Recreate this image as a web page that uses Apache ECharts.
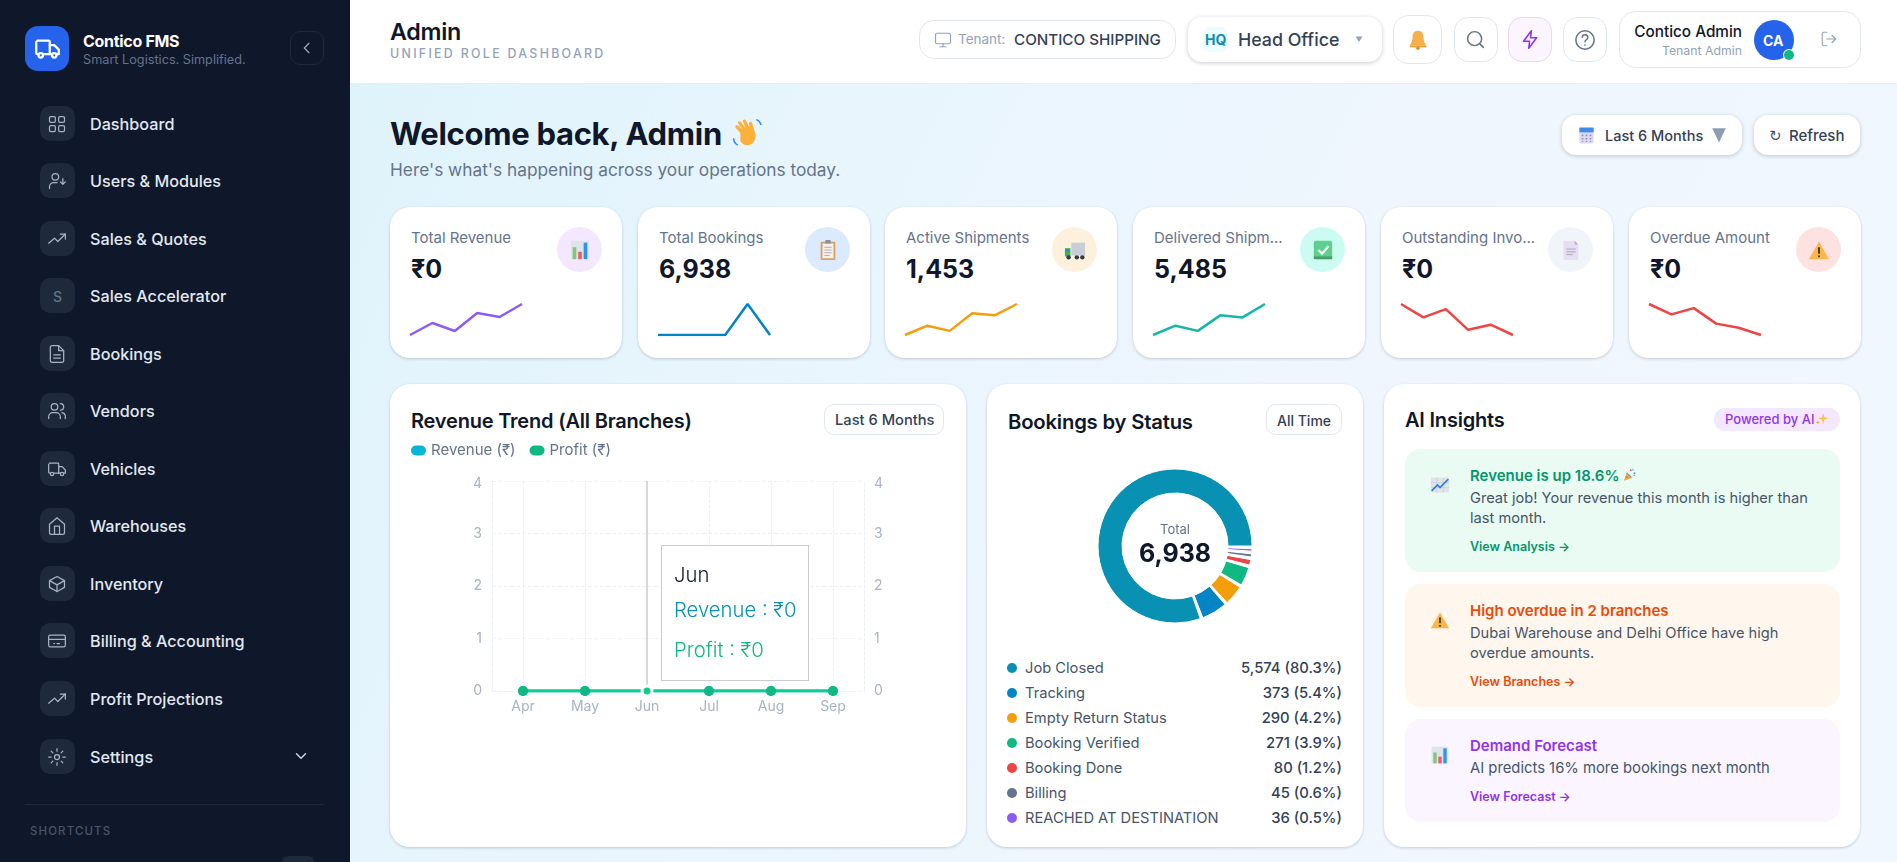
<!DOCTYPE html>
<html lang="en">
<head>
<meta charset="UTF-8">
<title>Contico FMS - Admin</title>
<script src="https://cdn.jsdelivr.net/npm/echarts@6/dist/echarts.min.js"></script>
<style>
  html, body { margin: 0; padding: 0; width: 1897px; height: 862px; overflow: hidden; background: #eff6ff; }
  body { position: relative; font-family: Inter, "Noto Sans", sans-serif; color: #0f172a; }
  .t { position: absolute; transform: translateY(-50%); white-space: nowrap; }
  .b { position: absolute; box-sizing: border-box; }
  .card { background: #fff; border-radius: 20px; box-shadow: 0 1px 3px rgba(15,23,42,.2); }
  .btn { background: #fff; border: 1px solid #e2e8f0; }
  .raised { background: #fff; border-radius: 14px; box-shadow: 0 1px 4px rgba(15,23,42,.22); }
  .b svg { position: absolute; }
</style>
</head>
<body>
<div id="page"></div>
<script>
// chart data
var months = ['Apr', 'May', 'Jun', 'Jul', 'Aug', 'Sep'];
var revenueValues = [0, 0, 0, 0, 0, 0];
var profitValues = [0, 0, 0, 0, 0, 0];
var activeMonth = 2;

var bookingNames = ['Job Closed', 'Tracking', 'Empty Return Status', 'Booking Verified', 'Booking Done', 'Billing', 'REACHED AT DESTINATION'];
var bookingValues = [5574, 373, 290, 271, 80, 45, 36];
var bookingPercents = ['80.3', '5.4', '4.2', '3.9', '1.2', '0.6', '0.5'];
var bookingColors = ['#0891b2', '#0284c7', '#f59e0b', '#10b981', '#ef4444', '#64748b', '#8b5cf6'];

var kpiLabels = ['Total Revenue', 'Total Bookings', 'Active Shipments', 'Delivered Shipm...', 'Outstanding Invo...', 'Overdue Amount'];
var kpiValues = ['₹0', '6,938', '1,453', '5,485', '₹0', '₹0'];
var kpiColors = ['#8b5cf6', '#0284c7', '#f59e0b', '#14b8a6', '#ef4444', '#ef4444'];
var kpiCircles = ['#f3e8ff', '#dbeafe', '#fdf0dc', '#ccfbf1', '#f1f5f9', '#fee2e2'];
var sparkRevenue = [0, 12, 4, 22, 18, 31];
var sparkBookings = [0, 0, 0, 0, 31, 0];
var sparkActive = [1, 10, 5, 22, 20, 31];
var sparkDelivered = [1, 10, 5, 20, 18, 31];
var sparkOutstanding = [31, 18, 26, 6, 11, 1];
var sparkOverdue = [31, 21, 27, 12, 8, 1];
var sparks = [sparkRevenue, sparkBookings, sparkActive, sparkDelivered, sparkOutstanding, sparkOverdue];

var menuNames = ['Dashboard', 'Users & Modules', 'Sales & Quotes', 'Sales Accelerator', 'Bookings', 'Vendors', 'Vehicles', 'Warehouses', 'Inventory', 'Billing & Accounting', 'Profit Projections', 'Settings'];

// small layout helpers
function T(x, y, s, css) { return '<div class="t" style="left:' + x + 'px;top:' + y + 'px;' + (css || '') + '">' + s + '</div>'; }
function TR(x, y, s, css) { return '<div class="t" style="right:' + (1897 - x) + 'px;top:' + y + 'px;' + (css || '') + '">' + s + '</div>'; }
function B(x, y, w, h, cls, css, inner) { return '<div class="b ' + cls + '" style="left:' + x + 'px;top:' + y + 'px;width:' + w + 'px;height:' + h + 'px;' + (css || '') + '">' + (inner || '') + '</div>'; }
function svg(x, y, size, body, extra) {
  return '<svg style="position:absolute;left:' + x + 'px;top:' + y + 'px" width="' + size + '" height="' + size + '" viewBox="0 0 24 24" ' + (extra || '') + '>' + body + '</svg>';
}
function line(x, y, size, body, color, sw) {
  return svg(x, y, size, body, 'fill="none" stroke="' + color + '" stroke-width="' + (sw || 1.7) + '" stroke-linecap="round" stroke-linejoin="round"');
}

var trendUp = '<polyline points="2 17 9 11 13 15 22 6"/><polyline points="16 6 22 6 22 12"/>';
var truck = '<path d="M3 5h10a1 1 0 0 1 1 1v11H8M4 17H3a1 1 0 0 1-1-1V6"/><path d="M14 9h4l4 4v4h-2M14 17h2"/><circle cx="6" cy="18" r="2"/><circle cx="18" cy="18" r="2"/>';
var menuIcons = [
  '<rect x="3" y="3" width="7" height="7" rx="1.5"/><rect x="14" y="3" width="7" height="7" rx="1.5"/><rect x="3" y="14" width="7" height="7" rx="1.5"/><rect x="14" y="14" width="7" height="7" rx="1.5"/>',
  '<circle cx="10" cy="7" r="4"/><path d="M3 21v-2a5 5 0 0 1 5-5h4"/><path d="M19 9v7M16 13l3 3 3-3"/>',
  trendUp,
  '',
  '<path d="M14 2H6a2 2 0 0 0-2 2v16a2 2 0 0 0 2 2h12a2 2 0 0 0 2-2V8z"/><path d="M14 2v6h6M8 13h8M8 17h8"/>',
  '<circle cx="9" cy="7" r="4"/><path d="M2 21v-2a5 5 0 0 1 5-5h4a5 5 0 0 1 5 5v2"/><path d="M16 3a4 4 0 0 1 0 8M22 21v-2a5 5 0 0 0-4-5"/>',
  truck,
  '<path d="M3 10l9-8 9 8v10a2 2 0 0 1-2 2H5a2 2 0 0 1-2-2z"/><path d="M9 22V12h6v10"/>',
  '<path d="M21 8l-9-5-9 5v8l9 5 9-5z"/><path d="M3 8l9 5 9-5M12 13v8"/>',
  '<rect x="2" y="5" width="20" height="14" rx="2"/><path d="M2 10h20M8 15h1M12 15h3"/>',
  trendUp,
  '<circle cx="12" cy="12" r="3"/><path d="M12 2v3M12 19v3M2 12h3M19 12h3M5 5l2 2M17 17l2 2M5 19l2-2M17 7l2-2"/>'
];

// emoji stand-ins, no colour emoji font is installed
var eBars = '<rect x="2" y="2" width="20" height="20" fill="#dfe3ea"/><rect x="4" y="9" width="4" height="13" fill="#7fc77a"/><rect x="10" y="14" width="4" height="8" fill="#ef5a6a"/><rect x="16" y="4" width="4" height="18" fill="#2f95e6"/>';
var eClip = '<rect x="4" y="3" width="16" height="20" rx="1" fill="#d9a066"/><rect x="6" y="5" width="12" height="16" fill="#f6f2e9"/><rect x="9" y="1" width="6" height="4" rx="1" fill="#8b8f99"/><path d="M8 9h8M8 12h8M8 15h8M8 18h6" stroke="#aab" stroke-width="1"/>';
var eTruck = '<rect x="8" y="4" width="15" height="14" fill="#c9ced6"/><path d="M1 10h6v9H1z" fill="#3fae5a"/><path d="M2 11h4v3H2z" fill="#2f8fd6"/><circle cx="5" cy="20" r="2.4" fill="#333a45"/><circle cx="14" cy="20" r="2.4" fill="#333a45"/><circle cx="20" cy="20" r="2.4" fill="#333a45"/>';
var eCheck = '<rect x="2" y="2" width="20" height="20" rx="2" fill="#5ecf8f"/><rect x="2" y="19" width="20" height="3" fill="#4a9e6c"/><path d="M7 12l4 4 7-8" fill="none" stroke="#fff" stroke-width="2.4"/>';
var eDoc = '<path d="M4 2h12l4 4v17H4z" fill="#e6def3"/><path d="M16 2l4 4h-4z" fill="#b9b3c6"/><path d="M7 11h10M7 14h10M7 17h7" stroke="#a9a4bb" stroke-width="1"/>';
var eWarn = '<path d="M12 3l11 19H1z" fill="#fdb64a"/><path d="M12 9v7M12 18v2" stroke="#333" stroke-width="2"/>';
var eBell = '<path d="M12 2c4 0 6 3 6 7 0 5 2 7 3 9H3c1-2 3-4 3-9 0-4 2-7 6-7z" fill="#f5b04c"/><path d="M3 18h18v2H3z" fill="#ee9e36"/><circle cx="12" cy="21" r="2" fill="#e58e2a"/>';
var eCal = '<rect x="3" y="2" width="18" height="20" rx="2" fill="#dcd8f2"/><rect x="3" y="2" width="18" height="6" fill="#3b8ced"/><path d="M7 11v9M12 11v9M17 11v9" stroke="#8d89b8" stroke-width="2" stroke-dasharray="2 2"/>';
var eHand = '<path d="M7 12L3.500 8c-1-1.200 .8-2.800 2-1.500L9 10 5.500 5c-1-1.300 1-2.700 2-1.300L11 8.500 9 3.500c-.6-1.500 1.500-2.300 2.200-.9L14 8l-.6-3c-.3-1.600 1.900-2 2.400-.5l2.200 7c1.300 4.500-.6 8.500-4.400 9.500-3 .7-5-.6-6.600-3z" fill="#fbb03b"/><path d="M2 16c0 2 1 4 3 5M19 2c2 .5 3 2 3.500 4" fill="none" stroke="#3b8ced" stroke-width="1.200"/>';
var eParty = '<path d="M3 22l5-14 9 9z" fill="#f5a93c"/><path d="M6 15l3 3M8 10l6 6" stroke="#3b8ced" stroke-width="1.500"/><circle cx="14" cy="5" r="1.500" fill="#e94f6a"/><circle cx="20" cy="10" r="1.500" fill="#3b8ced"/><path d="M17 3l1 3M21 14l-3-1" stroke="#47b26b" stroke-width="1.500"/>';
var eSpark = '<path d="M14 2l2 7 7 2-7 2-2 8-2-8-7-2 7-2z" fill="#fdc04d"/><path d="M5 14l1 3 3 1-3 1-1 3-1-3-3-1 3-1z" fill="#f4a83b"/>';
var eTrend = '<rect x="1" y="3" width="22" height="18" fill="#dfe3ea"/><path d="M1 9h22M1 15h22M8 3v18M16 3v18" stroke="#c7ccd6" stroke-width=".7"/><path d="M2 19l7-7 3 3 10-10" fill="none" stroke="#2f7fd6" stroke-width="2"/>';
var kpiEmoji = [eBars, eClip, eTruck, eCheck, eDoc, eWarn];

var h = '';

// content background
h += B(350, 83, 1547, 779, '', 'background:linear-gradient(115deg,#dff3fb 0%,#e9f5fd 30%,#eff6fe 60%,#f0f7ff 100%)');

// sidebar
h += B(0, 0, 350, 862, '', 'background:#0f172a');
h += B(25, 26, 44, 45, '', 'background:#2563eb;border-radius:13px', line(9, 9, 27, truck, '#fff', 2));
h += T(83, 41, 'Contico FMS', 'font-size:16px;font-weight:700;color:#fff;letter-spacing:-.3px');
h += T(83, 59, 'Smart Logistics. Simplified.', 'font-size:12.700px;color:#64748b');
h += B(290, 31, 34, 34, '', 'border:1px solid #1e293b;border-radius:10px', line(8, 8, 16, '<polyline points="15 5 8 12 15 19"/>', '#94a3b8', 2));
for (var i = 0; i < menuNames.length; i++) {
  var my = 123.5 + i * 57.55;
  var inner = i === 3
    ? '<div class="t" style="left:0;width:35px;top:18px;text-align:center;font-size:14px;color:#64748b;font-weight:500">S</div>'
    : line(7, 8, 20, menuIcons[i], '#a7b4c6', 1.5);
  h += B(40, Math.round(my - 18), 35, 35, '', 'background:#1e293b;border-radius:10px', inner);
  h += T(90, my, menuNames[i].replace('&', '&amp;'), 'font-size:16.200px;font-weight:500;color:#e2e8f0');
}
h += line(292, 747, 18, '<polyline points="6 9 12 15 18 9"/>', '#cbd5e1', 2);
h += B(25, 804, 299, 1, '', 'background:#1e293b');
h += T(30, 830.5, 'SHORTCUTS', 'font-size:11.500px;font-weight:500;letter-spacing:1.100px;color:#475569');
h += B(282, 856, 32, 12, '', 'background:#1e293b;border-radius:6px');

// header
h += B(350, 0, 1547, 84, '', 'background:#fff;border-bottom:1px solid #e8eef4');
h += T(390, 31, 'Admin', 'font-size:23.300px;font-weight:600;letter-spacing:-.3px');
h += T(390, 53, 'UNIFIED ROLE DASHBOARD', 'font-size:12.400px;font-weight:500;letter-spacing:2.300px;color:#94a3b8');

h += B(919, 20, 257, 39, 'btn', 'border-radius:15px');
h += line(934, 31, 18, '<rect x="2" y="3" width="20" height="14" rx="2"/><path d="M8 21h8M12 17v4"/>', '#94a3b8', 1.6);
h += T(958, 39, 'Tenant:', 'font-size:13.500px;color:#94a3b8');
h += T(1014, 39, 'CONTICO SHIPPING', 'font-size:15.200px;font-weight:500;color:#334155');

h += B(1188, 17, 194, 45, 'raised');
h += B(1203, 27, 25, 25, '', 'background:#ecfeff;border-radius:6px');
h += T(1205, 39, 'HQ', 'font-size:14px;font-weight:700;color:#0891b2');
h += T(1238, 39, 'Head Office', 'font-size:17.800px;font-weight:500;color:#334155');
h += svg(1353, 33, 12, '<path d="M5 7h14l-7 11z" fill="#94a3b8"/>');

h += B(1393, 15, 49, 49, 'btn', 'border-radius:15px');
h += svg(1407, 29, 22, eBell);
h += B(1454, 17, 44, 45, 'btn', 'border-radius:14px');
h += line(1465, 29, 21, '<circle cx="11" cy="11" r="8"/><path d="M21 21l-4.300-4.300"/>', '#64748b', 1.7);
h += B(1508, 17, 44, 45, 'btn', 'border-radius:14px;background:#faf5ff;border-color:#e9d5ff');
h += line(1520, 29, 21, '<path d="M13 2L4 14h7l-1 8 9-12h-7z"/>', '#9333ea', 1.8);
h += B(1563, 17, 44, 45, 'btn', 'border-radius:14px');
h += line(1574, 29, 22, '<circle cx="12" cy="12" r="10"/><path d="M9 9a3 3 0 0 1 6 .5c0 2-3 2.500-3 4.500M12 17.500v.1"/>', '#64748b', 1.7);

h += B(1619, 11, 242, 57, 'btn', 'border-radius:17px');
h += TR(1742, 31, 'Contico Admin', 'font-size:15.300px;font-weight:500');
h += TR(1742, 50, 'Tenant Admin', 'font-size:12.300px;color:#94a3b8');
h += B(1754, 20, 40, 40, '', 'background:#2563eb;border-radius:50%');
h += T(1763, 40, 'CA', 'font-size:14px;font-weight:700;color:#fff');
h += B(1784, 50, 10, 10, '', 'background:#10b981;border-radius:50%;box-shadow:0 0 0 1px #fff');
h += line(1820, 30, 18, '<path d="M9 21H5a2 2 0 0 1-2-2V5a2 2 0 0 1 2-2h4M16 17l5-5-5-5M21 12H9"/>', '#94a3b8', 1.5);

// welcome row
h += T(390, 133, 'Welcome back, Admin', 'font-size:31px;font-weight:700;letter-spacing:-.3px');
h += svg(731, 117, 32, eHand);
h += T(390, 169, "Here's what's happening across your operations today.", 'font-size:17.300px;color:#64748b');

h += B(1562, 115, 180, 40, 'raised');
h += svg(1577, 126, 19, eCal);
h += T(1605, 135, 'Last 6 Months', 'font-size:14.500px;font-weight:500;color:#334155');
h += svg(1710, 126, 18, '<path d="M3 3h18l-9 19z" fill="#8d9cb0"/>');
h += B(1754, 115, 106, 40, 'raised');
h += T(1769, 136, '↻', 'font-size:15px;font-family:\'DejaVu Sans\';color:#475569');
h += T(1789, 135, 'Refresh', 'font-size:15px;font-weight:500;color:#334155');

// kpi cards
var kpiLeft = [390, 638, 885, 1133, 1381, 1629];
for (var k = 0; k < 6; k++) {
  var cx = kpiLeft[k];
  h += B(cx, 207, 232, 151, 'card', 'border-radius:20px');
  h += T(cx + 21, 237, kpiLabels[k], 'font-size:15px;color:#64748b');
  h += T(cx + 21, 269, kpiValues[k], 'font-size:25px;font-weight:700');
  h += B(cx + 167, 227, 45, 45, '', 'background:' + kpiCircles[k] + ';border-radius:50%', svg(12, 12, 22, kpiEmoji[k]));
  h += '<div id="spark' + k + '" class="b" style="left:' + (cx + 19) + 'px;top:298px;width:114px;height:42px"></div>';
}

// revenue card
h += B(390, 384, 576, 463, 'card');
h += T(411, 421, 'Revenue Trend (All Branches)', 'font-size:20px;font-weight:600;letter-spacing:-.2px');
h += B(824, 404, 120, 31, 'btn', 'border-radius:10px');
h += T(835, 420, 'Last 6 Months', 'font-size:14.700px;font-weight:500;color:#334155');
h += '<div id="trend" class="b" style="left:390px;top:440px;width:576px;height:300px"></div>';

// bookings card
h += B(987, 384, 376, 463, 'card');
h += T(1008, 421, 'Bookings by Status', 'font-size:20.300px;font-weight:600;letter-spacing:-.2px');
h += B(1266, 404, 76, 31, 'btn', 'border-radius:10px');
h += T(1277, 420, 'All Time', 'font-size:14px;font-weight:500;color:#334155');
h += '<div id="donut" class="b" style="left:1075px;top:446px;width:200px;height:200px"></div>';
for (var n = 0; n < bookingNames.length; n++) {
  var ry = 667.5 + n * 25;
  h += B(1007, Math.round(ry - 5), 10, 10, '', 'border-radius:50%;background:' + bookingColors[n]);
  h += T(1025, ry, bookingNames[n], 'font-size:14.700px;color:#475569');
  h += TR(1342, ry, bookingValues[n].toLocaleString('en-US') + ' (' + bookingPercents[n] + '%)', 'font-size:14.800px;font-weight:500;color:#334155');
}

// ai insights card
h += B(1384, 384, 476, 463, 'card');
h += T(1405, 420, 'AI Insights', 'font-size:20px;font-weight:600;letter-spacing:-.2px');
h += B(1714, 408, 126, 23, '', 'background:#f3e8ff;border-radius:12px');
h += T(1725, 419, 'Powered by AI', 'font-size:13px;font-weight:500;color:#9333ea');
h += svg(1815, 412, 14, eSpark);

h += B(1405, 449, 435, 123, '', 'background:#e9fbf3;border-radius:16px');
h += svg(1430, 475, 20, eTrend);
h += T(1470, 475, 'Revenue is up 18.6%', 'font-size:15px;font-weight:600;color:#059669');
h += svg(1622, 467, 15, eParty);
h += T(1470, 498, 'Great job! Your revenue this month is higher than', 'font-size:14.650px;color:#475569');
h += T(1470, 518, 'last month.', 'font-size:14.650px;color:#475569');
h += T(1470, 546, 'View Analysis →', 'font-size:12.500px;font-weight:600;color:#059669');

h += B(1405, 584, 435, 123, '', 'background:#fff7ed;border-radius:16px');
h += svg(1430, 610, 20, eWarn);
h += T(1470, 610, 'High overdue in 2 branches', 'font-size:15px;font-weight:600;color:#ea4a0c');
h += T(1470, 633, 'Dubai Warehouse and Delhi Office have high', 'font-size:14.650px;color:#475569');
h += T(1470, 653, 'overdue amounts.', 'font-size:14.650px;color:#475569');
h += T(1470, 681, 'View Branches →', 'font-size:12.500px;font-weight:600;color:#ea4a0c');

h += B(1405, 719, 435, 103, '', 'background:#faf5ff;border-radius:16px');
h += svg(1430, 745, 20, eBars);
h += T(1470, 745, 'Demand Forecast', 'font-size:15px;font-weight:600;color:#9333ea');
h += T(1470, 768, 'AI predicts 16% more bookings next month', 'font-size:14.800px;color:#475569');
h += T(1470, 796, 'View Forecast →', 'font-size:12.500px;font-weight:600;color:#9333ea');

document.getElementById('page').innerHTML = h;

// sparklines
sparks.forEach(function (vals, idx) {
  var c = echarts.init(document.getElementById('spark' + idx));
  c.setOption({
    animation: false,
    grid: { left: 1, right: 1, top: 6, bottom: 5 },
    xAxis: { type: 'category', show: false, boundaryGap: false, data: months },
    yAxis: { type: 'value', show: false, min: 'dataMin', max: 'dataMax' },
    series: [{ type: 'line', data: vals, symbol: 'none', silent: true, lineStyle: { color: kpiColors[idx], width: 2.5 } }]
  });
});

// revenue trend
var trendFont = { color: '#a8b3c2', fontSize: 14, fontFamily: 'Inter' };
var gridLine = { show: true, lineStyle: { color: '#eef1f6', type: 'dashed' } };
var edgeLine = { show: true, lineStyle: { color: '#eef1f6', type: 'dashed' } };
// the top tick label sits a little under its grid line in the reference
function yTickLabel(v) { return v === 4 ? '{top|4}' : String(v); }
var yLabelStyle = Object.assign({ margin: 10, formatter: yTickLabel, rich: { top: { color: '#a8b3c2', fontSize: 14, fontFamily: 'Inter', padding: [6, 0, 0, 0] } } }, trendFont);
var trend = echarts.init(document.getElementById('trend'));
trend.setOption({
  animation: false,
  legend: {
    left: 21, top: 3, padding: 0, itemWidth: 15, itemHeight: 10, itemGap: 14,
    icon: 'path://M5 0H10A5 5 0 0 1 10 10H5A5 5 0 0 1 5 0Z',
    textStyle: { color: '#64748b', fontSize: 15, fontFamily: 'Inter' }
  },
  grid: { left: 102, top: 41, width: 372, height: 210 },
  tooltip: {
    trigger: 'axis',
    alwaysShowContent: true,
    transitionDuration: 0,
    padding: 0,
    borderWidth: 1,
    borderColor: '#ccc',
    backgroundColor: '#fff',
    extraCssText: 'box-shadow:none;border-radius:0;',
    axisPointer: { type: 'line', z: 1, lineStyle: { color: '#ccc', width: 1.5, type: 'solid' } },
    position: function () { return [271, 105]; },
    formatter: function (p) {
      return '<div style="width:146px;height:134px;box-sizing:border-box;padding:9px 0 0 12px;font-family:Inter;font-size:20.300px;font-weight:300">' +
        '<div style="line-height:40px;color:#111827">' + p[0].axisValue + '</div>' +
        '<div style="line-height:30px;color:#0891b2">Revenue : ₹' + p[0].value + '</div>' +
        '<div style="line-height:40px;margin-top:5px;color:#10b981">Profit : ₹' + (p[1].value) + '</div></div>';
    }
  },
  xAxis: {
    type: 'category', data: months,
    axisLine: edgeLine,
    axisTick: { show: false },
    axisLabel: Object.assign({ margin: 9 }, trendFont),
    splitLine: { show: true, alignWithLabel: true, lineStyle: { color: '#eef1f6', type: 'dashed' } }
  },
  yAxis: [
    { type: 'value', min: 0, max: 4, interval: 1, axisLine: edgeLine, axisTick: { show: false }, axisLabel: yLabelStyle, splitLine: gridLine },
    { type: 'value', min: 0, max: 4, interval: 1, position: 'right', axisLine: edgeLine, axisTick: { show: false }, axisLabel: yLabelStyle, splitLine: { show: false } }
  ],
  series: [
    { name: 'Revenue (₹)', type: 'line', data: revenueValues, symbol: 'circle', symbolSize: 10, itemStyle: { color: '#06b6d4' }, lineStyle: { color: '#06b6d4', width: 3 }, emphasis: { scale: false } },
    {
      name: 'Profit (₹)', type: 'line', yAxisIndex: 1, symbol: 'circle', symbolSize: 10,
      data: profitValues.map(function (v, i) {
        return i === activeMonth ? { value: v, itemStyle: { borderColor: '#fff', borderWidth: 3 } } : v;
      }),
      itemStyle: { color: '#10b981' }, lineStyle: { color: '#10b981', width: 3 }, emphasis: { scale: false }
    }
  ]
});
trend.dispatchAction({ type: 'showTip', seriesIndex: 1, dataIndex: activeMonth });

// bookings donut, a 2 degree gap after each slice (7 gaps out of 360)
var bookingSum = bookingValues.reduce(function (a, b) { return a + b; }, 0);
var gapValue = bookingSum * 2 / (360 - 2 * bookingValues.length);
var donutData = [];
bookingNames.forEach(function (name, i) {
  donutData.push({ name: name, value: bookingValues[i], itemStyle: { color: bookingColors[i], borderColor: '#fff', borderWidth: 1 } });
  donutData.push({ name: 'gap' + i, value: gapValue, itemStyle: { color: 'rgba(0,0,0,0)' } });
});
var donut = echarts.init(document.getElementById('donut'));
donut.setOption({
  animation: false,
  graphic: [
    { type: 'text', left: 'center', top: 78, style: { text: 'Total', fill: '#64748b', font: '13px Inter' } },
    { type: 'text', left: 'center', top: 96, style: { text: '6,938', fill: '#0f172a', font: '700 25px Inter' } }
  ],
  series: [{
    type: 'pie',
    center: [100, 100],
    radius: [53, 77],
    startAngle: 0,
    clockwise: false,
    silent: true,
    label: { show: false },
    data: donutData
  }]
});
</script>
</body>
</html>
